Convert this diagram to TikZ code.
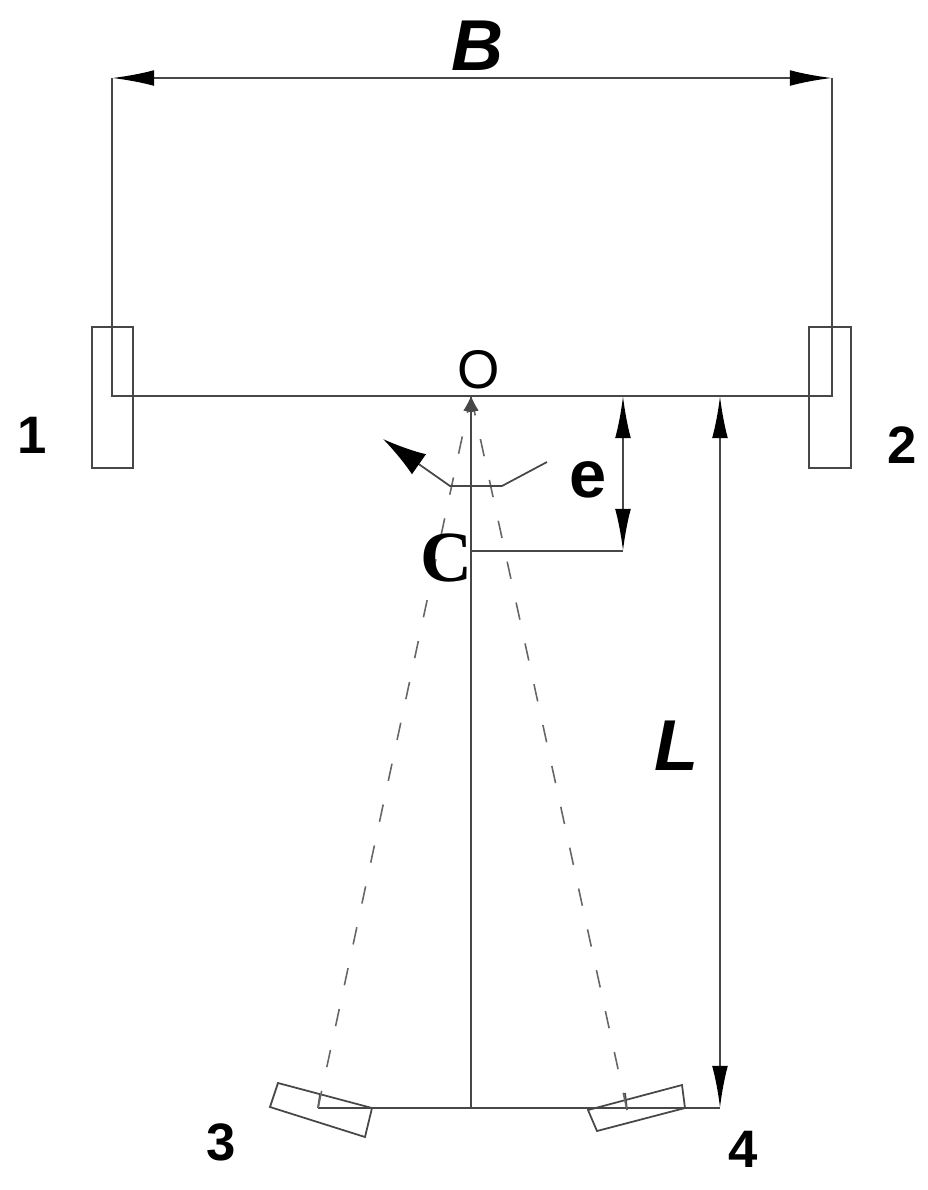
\documentclass[tikz,border=0pt]{standalone}
\usepackage{amsmath}
\usepackage{fontspec}
\setmainfont{Liberation Serif}
\setsansfont{Liberation Sans}
\usetikzlibrary{arrows.meta}
\tikzset{
  line/.style={draw=black!72,line width=1.3pt},
  dim/.style={line,{Latex[black,length=24pt,width=9pt]}-{Latex[black,length=24pt,width=9pt]}},
  wheel/.style={draw=black!72,line width=1pt},
  track/.style={draw=black!60,line width=0.9pt,dash pattern=on 10pt off 13.8pt},
  tag/.style={font=\sffamily\bfseries\fontsize{30}{30}\selectfont},
  dimtag/.style={font=\sffamily\bfseries\itshape\fontsize{41}{41}\selectfont}
}
\begin{document}
\begin{tikzpicture}[scale=0.2]
\tikzstyle{every node}+=[inner sep=0pt]
\useasboundingbox (0,0) rectangle (92.8,-119);
% axle points
\coordinate (axleL) at (11.2,-39.6);
\coordinate (axleR) at (83.2,-39.6);
\coordinate (topL) at (11.2,-7.8);
\coordinate (topR) at (83.2,-7.8);
\coordinate (pivotO) at (47.1,-39.6);
\coordinate (pivotC) at (47.1,-55.1);
\coordinate (rearM) at (47.1,-110.8);
\coordinate (rearL) at (31.8,-110.8);
\coordinate (rearR) at (72,-110.8);
\coordinate (eTop) at (62.3,-39.6);
\coordinate (eBot) at (62.3,-55.1);
\coordinate (lTop) at (72,-39.6);
\coordinate (tickL) at (32,-109.5);
\coordinate (tickR) at (62.5,-109.3);
\coordinate (tickRb) at (62.7,-111);
\coordinate (steerA) at (54.7,-46.2);
\coordinate (steerB) at (50.2,-48.6);
\coordinate (steerC) at (45,-48.6);
\coordinate (steerD) at (38.3,-43.9);
% frame
\draw [line] (topL) -- (axleL) -- (axleR) -- (topR);
\draw [dim] (topL) -- (topR);
\draw [line] (pivotO) -- (rearM);
\draw [line] (rearL) -- (rearR);
\draw [line] (pivotC) -- (eBot);
\draw [dim] (eTop) -- (eBot);
\draw [dim] (lTop) -- (rearR);
% front wheels
\draw [wheel] (9.2,-32.7) rectangle (13.3,-46.8);
\draw [wheel] (80.9,-32.7) rectangle (85.1,-46.8);
% rear wheels
\draw [wheel] (27.8,-108.3) -- (37.2,-110.8) -- (36.5,-113.7) -- (27,-110.7) -- cycle;
\draw [wheel] (58.8,-111) -- (68.2,-108.5) -- (68.5,-110.8) -- (59.7,-113.1) -- cycle;
\draw [wheel] (tickL) -- (rearL);
\draw [wheel] (tickR) -- (tickRb);
% turning rays
\draw [track,-{Latex[black!72,length=9pt,width=5pt]}] (rearL) -- (pivotO);
\draw [track,-{Latex[black!72,length=9pt,width=5pt]}] (tickRb) -- (pivotO);
\draw [wheel,-{Latex[black,length=25pt,width=14pt]}] (steerA) -- (steerB) -- (steerC) -- (steerD);
% labels
\node (labelB) at (47.75,-4.6) [dimtag] {B};
\node (labelL) at (67.7,-74.6) [dimtag] {L};
\node (labelE) at (58.85,-48) [font=\sffamily\bfseries\fontsize{38}{38}\selectfont] {e};
\node (labelO) at (47.9,-37) [font=\sffamily\fontsize{31}{31}\selectfont] {O};
\node (labelC) at (44.7,-55.8) [font=\bfseries\fontsize{41}{41}\selectfont] {C};
\node (label1) at (3.2,-43.5) [tag] {1};
\node (label2) at (90.2,-44.5) [tag] {2};
\node (label3) at (22.1,-114.2) [tag] {3};
\node (label4) at (74.3,-114.9) [tag] {4};
\end{tikzpicture}
\end{document}
